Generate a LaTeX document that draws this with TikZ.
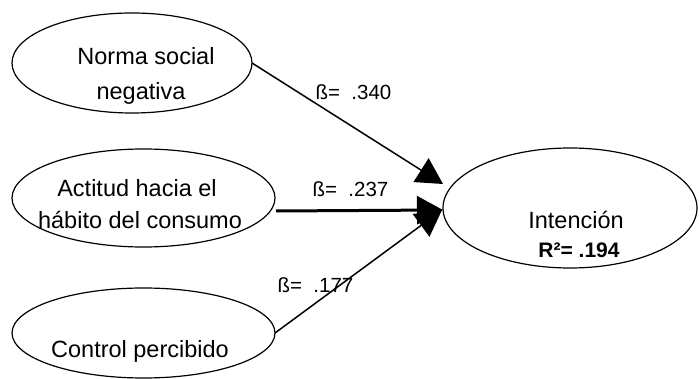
\documentclass[tikz,border=0pt]{standalone}
\usepackage{fontspec}
\setmainfont{Liberation Sans}
\usetikzlibrary{arrows.meta,shapes.geometric,calc}
\begin{document}
\begin{tikzpicture}[x=1pt,y=-1pt,
  construct/.style={ellipse,draw,line width=1.2pt,inner sep=0pt,outer sep=0pt},
  txt/.style={anchor=base,inner sep=0pt,font=\fontsize{23.5}{28}\selectfont},
  coef/.style={anchor=base,inner sep=0pt,font=\fontsize{20.5}{24}\selectfont},
  effect/.style={line width=1.5pt,-{Triangle[length=26pt,width=28pt]}}]
\useasboundingbox (0,0) rectangle (699,379);

% latent constructs
\node[construct,minimum width=240pt,minimum height=100pt] (norma) at (132,63) {};
\node[construct,minimum width=263pt,minimum height=98pt] (actitud) at (143.5,198) {};
\node[construct,minimum width=263pt,minimum height=90pt] (control) at (143.5,333) {};
\node[construct,minimum width=254pt,minimum height=120pt] (intencion) at (570,208) {};

% construct labels
\node[txt] (n1) at (146,65) {Norma social};
\node[txt] (n2) at (141,100) {negativa};
\node[txt] (a1) at (137,197) {Actitud hacia el};
\node[txt] (a2) at (140,229) {hábito del consumo};
\node[txt] (c1) at (140,357) {Control percibido};
\node[txt] (i1) at (576,229) {Intención};
\node[anchor=base,inner sep=0pt,font=\fontsize{21}{24}\selectfont\bfseries] (r2) at (579,258) {R²= .194};

% path endpoints
\coordinate (s2) at ($(actitud.east)+(1,13)$);
\coordinate (t1) at ($(intencion.west)+(0,-24)$);
\coordinate (t2) at ($(intencion.west)+(0,2)$);
\coordinate (t3) at ($(intencion.west)+(-1,2)$);

% structural paths
\draw[effect] (norma.east) -- (t1);
\draw[effect,line width=3pt] (s2) -- (t2);
\draw[effect] (control.east) -- (t3);

% path coefficients
\node[coef] (b1) at (353.5,100) {ß=\ \ .340};
\node[coef] (b2) at (350.5,197) {ß=\ \ .237};
\node[coef] (b3) at (315.5,293) {ß=\ \ .177};
\end{tikzpicture}
\end{document}
